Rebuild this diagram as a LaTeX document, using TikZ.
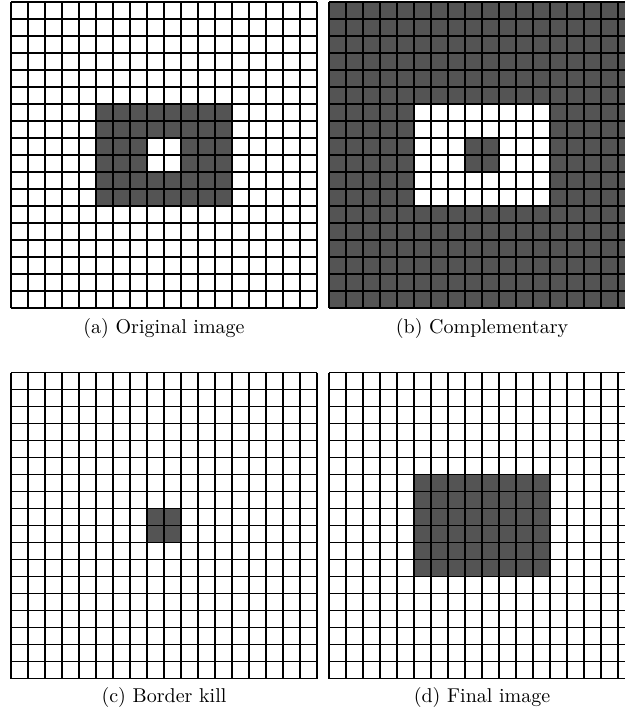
\documentclass[tikz,border=0pt]{standalone}
\usepackage{tikz}
\usetikzlibrary{positioning}

% one 18x18 pixel grid, top left corner at (#1,#2)
\newcommand{\pixgrid}[2]{%
  \foreach \i in {0,...,18} {
    \draw[gridline] (#1+\i*\cs, #2) -- (#1+\i*\cs, #2+18*\cs);
    \draw[gridline] (#1, #2+\i*\cs) -- (#1+18*\cs, #2+\i*\cs);
  }%
}

\begin{document}
\begin{tikzpicture}[
    x=0.5pt, y=-0.5pt,
    caption/.style={font=\normalsize, anchor=center, inner sep=0pt},
    on/.style={fill=black!67},
    off/.style={fill=white},
    gridline/.style={black, line width=0.6pt}
]
\useasboundingbox (0,0) rectangle (625,717);
\clip (0,0) rectangle (625,717);

\def\cs{17}
\def\xa{11}
\def\xb{329}
\def\ya{2}
\def\yb{372.5}

% (a) Original image
\fill[on] (\xa+5*\cs, \ya+6*\cs) rectangle ++(8*\cs, 6*\cs);
\fill[off] (\xa+8*\cs, \ya+8*\cs) rectangle ++(2*\cs, 2*\cs);
\pixgrid{\xa}{\ya}

% (b) Complementary
\fill[on] (\xb, \ya) rectangle ++(18*\cs, 18*\cs);
\fill[off] (\xb+5*\cs, \ya+6*\cs) rectangle ++(8*\cs, 6*\cs);
\fill[on] (\xb+8*\cs, \ya+8*\cs) rectangle ++(2*\cs, 2*\cs);
\pixgrid{\xb}{\ya}

% (c) Border kill
\fill[on] (\xa+8*\cs, \yb+8*\cs) rectangle ++(2*\cs, 2*\cs);
\pixgrid{\xa}{\yb}

% (d) Final image
\fill[on] (\xb+5*\cs, \yb+6*\cs) rectangle ++(8*\cs, 6*\cs);
\pixgrid{\xb}{\yb}

% Captions
\node[caption] (capa) at (\xa+9*\cs, 328) {(a) Original image};
\node[caption] (capb) at (\xb+9*\cs, 328) {(b) Complementary};
\node[caption] (capc) at (\xa+9*\cs, 697) {(c) Border kill};
\node[caption] (capd) at (\xb+9*\cs, 697) {(d) Final image};

\end{tikzpicture}
\end{document}
